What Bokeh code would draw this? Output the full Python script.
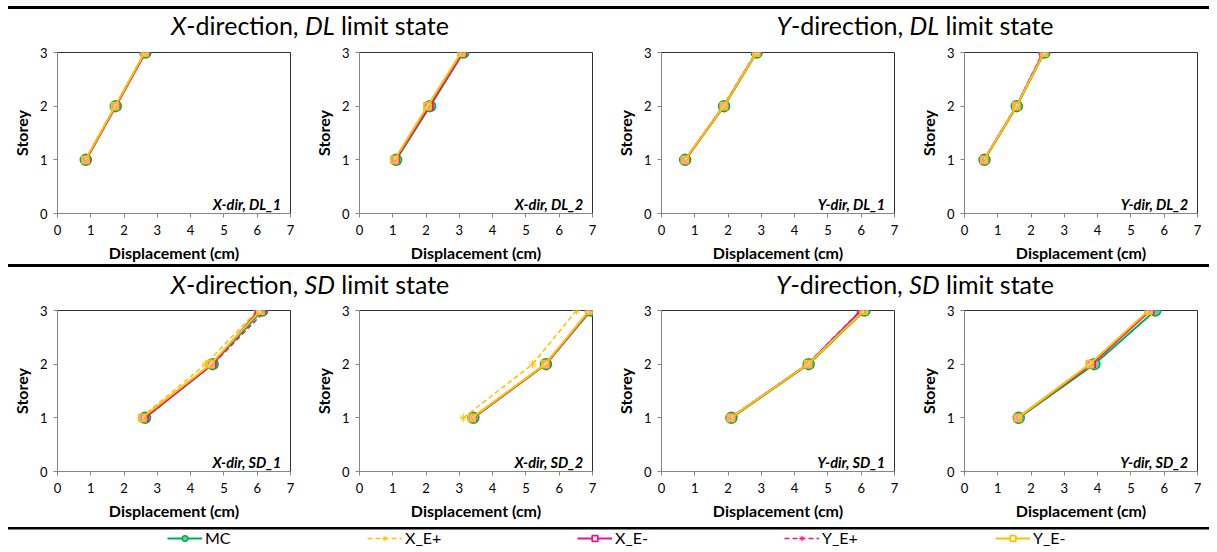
from bokeh.plotting import figure
from bokeh.models import Range1d, FixedTicker, Label, Legend, LegendItem, Div
from bokeh.layouts import column, row
from bokeh.embed import file_html
from bokeh.resources import INLINE

# ---------------- data ----------------
storeys = [1, 2, 3]
x_ticks = [0, 1, 2, 3, 4, 5, 6, 7]
y_ticks = [0, 1, 2, 3]
series_names = ["MC", "X_E+", "X_E-", "Y_E+", "Y_E-"]
panel_labels = ["X-dir, DL_1", "X-dir, DL_2", "Y-dir, DL_1", "Y-dir, DL_2",
                "X-dir, SD_1", "X-dir, SD_2", "Y-dir, SD_1", "Y-dir, SD_2"]
row_titles = [["<i>X</i>-direction, <i>DL</i> limit state", "<i>Y</i>-direction, <i>DL</i> limit state"],
              ["<i>X</i>-direction, <i>SD</i> limit state", "<i>Y</i>-direction, <i>SD</i> limit state"]]

# displacement (cm) at storeys 1,2,3 for each of the 8 panels
MC = [[0.85, 1.75, 2.64], [1.10, 2.12, 3.12], [0.71, 1.88, 2.86], [0.60, 1.57, 2.40],
      [2.63, 4.66, 6.15], [3.42, 5.60, 6.95], [2.10, 4.42, 6.10], [1.63, 3.90, 5.73]]
X_Ep = [[0.84, 1.73, 2.62], [1.05, 2.04, 3.05], [0.70, 1.85, 2.83], [0.59, 1.55, 2.38],
        [2.50, 4.45, 6.00], [3.12, 5.20, 6.52], [2.08, 4.40, 6.08], [1.60, 3.80, 5.60]]
X_Em = [[0.86, 1.75, 2.64], [1.08, 2.10, 3.10], [0.71, 1.87, 2.85], [0.59, 1.56, 2.37],
        [2.62, 4.65, 6.05], [3.40, 5.60, 6.92], [2.08, 4.40, 6.00], [1.60, 3.82, 5.58]]
Y_Ep = [[0.85, 1.74, 2.63], [1.07, 2.08, 3.09], [0.70, 1.86, 2.84], [0.58, 1.55, 2.35],
        [2.63, 4.67, 6.25], [3.40, 5.58, 6.93], [2.07, 4.38, 5.98], [1.60, 3.80, 5.55]]
Y_Em = [[0.84, 1.73, 2.62], [1.05, 2.04, 3.06], [0.70, 1.87, 2.85], [0.59, 1.56, 2.39],
        [2.55, 4.60, 6.10], [3.38, 5.58, 6.90], [2.08, 4.40, 6.08], [1.60, 3.76, 5.53]]
all_series = [MC, X_Ep, X_Em, Y_Ep, Y_Em]

# ---------------- styles ----------------
GREEN = "#00B050"
ORANGE = "#FFC000"
PINK = "#E8168B"
styles = [
    dict(color=GREEN, lw=2, dash="solid", marker="circle", size=11, fill="#74C994", falpha=1.0, mlw=1.5),
    dict(color=ORANGE, lw=1.5, dash="5 3", marker="asterisk", size=8, fill=ORANGE, falpha=1.0, mlw=1),
    dict(color=PINK, lw=2, dash="solid", marker="square", size=7, fill="#ffffff", falpha=0.6, mlw=1.8),
    dict(color=PINK, lw=1.5, dash="5 3", marker="asterisk", size=8, fill=PINK, falpha=1.0, mlw=1),
    dict(color=ORANGE, lw=2, dash="solid", marker="square", size=7, fill="#ffffff", falpha=0.4, mlw=1.8),
]
FONT = "Lato"
FRAME_W, FRAME_H = 233, 162
LEFT_B = 57
TOTAL_W = 1217


def make_panel(i, width, top, bottom):
    p = figure(width=width, height=top + FRAME_H + bottom,
               x_range=Range1d(0, 7), y_range=Range1d(0, 3),
               output_backend="svg", toolbar_location=None, title=None,
               min_border_left=LEFT_B, min_border_right=width - LEFT_B - FRAME_W,
               min_border_top=top, min_border_bottom=bottom)
    p.xaxis.ticker = FixedTicker(ticks=x_ticks)
    p.yaxis.ticker = FixedTicker(ticks=y_ticks)
    for ax in (p.xaxis[0], p.yaxis[0]):
        ax.axis_line_color = "#868686"
        ax.major_tick_line_color = "#868686"
        ax.major_tick_in = 0
        ax.major_tick_out = 4
        ax.minor_tick_line_color = None
        ax.major_label_text_font = FONT
        ax.major_label_text_font_size = "13px"
        ax.major_label_text_color = "#000000"
        ax.axis_label_text_font = FONT
        ax.axis_label_text_font_style = "bold"
        ax.axis_label_text_font_size = "16px"
        ax.axis_label_text_color = "#000000"
    p.xaxis.axis_label = "Displacement (cm)"
    p.yaxis.axis_label = "Storey"
    p.xaxis.major_label_standoff = 7
    p.yaxis.major_label_standoff = 6
    p.xaxis.axis_label_standoff = 5
    p.yaxis.axis_label_standoff = 6
    p.xgrid.visible = False
    p.ygrid.visible = False
    p.outline_line_color = "#303030"
    p.outline_line_width = 1
    for data, st in zip(all_series, styles):
        xs = data[i]
        p.line(xs, storeys, line_color=st["color"], line_width=st["lw"], line_dash=st["dash"])
        p.scatter(xs, storeys, marker=st["marker"], size=st["size"], fill_color=st["fill"],
                  fill_alpha=st["falpha"], line_color=st["color"], line_width=st["mlw"])
    p.add_layout(Label(x=6.72, y=0.17, text=panel_labels[i], text_align="right",
                       text_baseline="alphabetic", text_font=FONT,
                       text_font_style="bold italic", text_font_size="14.5px",
                       text_color="#000000"))
    return p


def header(titles, height, line_top, text_top):
    centers = [310, 915]
    html = '<div style="position:relative;width:%dpx;height:%dpx;margin:0;padding:0;">' % (TOTAL_W, height)
    html += ('<div style="position:absolute;left:8px;top:%dpx;width:1201px;height:0px;'
             'border-top:3px solid #000000;"></div>' % line_top)
    for c, t in zip(centers, titles):
        if t:
            html += ('<div style="position:absolute;left:%dpx;top:%dpx;transform:translateX(-50%%);'
                     'white-space:nowrap;font-family:Lato;font-size:25px;line-height:25px;color:#000;">%s</div>'
                     % (c, text_top, t))
    html += '</div>'
    return Div(text=html, width=TOTAL_W, height=height, margin=0)


widths = [302, 302, 303, 310]
row1 = row(*[make_panel(i, widths[i], 8, 50) for i in range(4)])
row2 = row(*[make_panel(4 + i, widths[i], 8, 50) for i in range(4)])
div1 = header(row_titles[0], 44, 6, 13)
div2 = header(row_titles[1], 38, 0, 8)
div3 = header(["", ""], 7, 0, 0)

# legend strip
lf = figure(width=TOTAL_W, height=23, x_range=Range1d(10, 11), y_range=Range1d(10, 11),
            x_axis_type=None, y_axis_type=None, output_backend="svg",
            toolbar_location=None, title=None, min_border=0)
lf.outline_line_color = None
leg_x = [167, 367, 577, 784, 995]
for name, data, st, lx in zip(series_names, all_series, styles, leg_x):
    rl = lf.line(data[0], storeys, line_color=st["color"], line_width=st["lw"], line_dash=st["dash"])
    rs = lf.scatter(data[0], storeys, marker=st["marker"], size=st["size"], fill_color=st["fill"],
                    line_color=st["color"], line_width=st["mlw"])
    leg = Legend(items=[LegendItem(label=name, renderers=[rl, rs])], location=(lx, 5),
                 orientation="horizontal", glyph_width=35, glyph_height=14, label_height=14,
                 label_standoff=3, padding=0, margin=0, spacing=0,
                 border_line_color=None, background_fill_alpha=0,
                 label_text_font=FONT, label_text_font_size="16px", label_text_color="#000000")
    lf.add_layout(leg)

layout = column(div1, row1, div2, row2, div3, lf)

open("out.html", "w").write(file_html(layout, INLINE))
